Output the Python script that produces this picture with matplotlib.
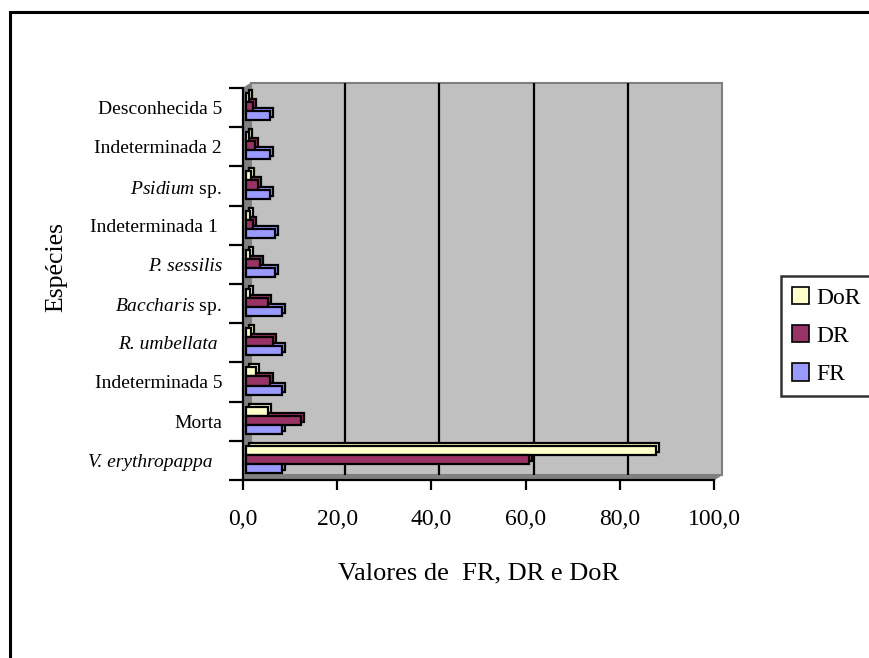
import matplotlib
matplotlib.use('Agg')
import matplotlib.pyplot as plt
import matplotlib.transforms as mtransforms
from matplotlib.patches import Rectangle, Polygon, Patch
import numpy as np

plt.rcParams['font.family'] = 'Liberation Serif'
plt.rcParams['mathtext.fontset'] = 'custom'
plt.rcParams['mathtext.rm'] = 'Liberation Serif'
plt.rcParams['mathtext.it'] = 'Liberation Serif:italic'

# species, bottom to top
species = ['V. erythropappa  ', 'Morta', 'Indeterminada 5',
           'R. umbellata ', r'$\mathit{Baccharis}$ sp.',
           'P. sessilis', 'Indeterminada 1 ', r'$\mathit{Psidium}$ sp.',
           'Indeterminada 2', 'Desconhecida 5']
italic = [True, False, False, True, False, True, False, False, False, False]
FR = [7.7, 7.7, 7.7, 7.7, 7.7, 6.2, 6.2, 5.1, 5.1, 5.1]
DR = [60.0, 11.6, 5.0, 5.7, 4.6, 2.9, 1.4, 2.5, 1.9, 1.5]
DoR = [87.0, 4.6, 2.1, 1.1, 0.9, 0.8, 0.8, 1.0, 0.7, 0.6]
xticks = [0, 20, 40, 60, 80, 100]
xticklabels = ['0,0', '20,0', '40,0', '60,0', '80,0', '100,0']

c_dor = '#FFFFCC'
c_dr = '#993366'
c_fr = '#9999FF'
wall = '#C0C0C0'
side = '#808080'

fig = plt.figure(figsize=(8.69, 6.58), dpi=100)
ax = fig.add_axes([243/869, 1-480/658, 471/869, 392/658])
ax.set_xlim(0, 100)
ax.set_ylim(-0.5, 9.5)
ax.patch.set_visible(False)

# depth of the 3D box in axes fractions
ddx = 8/471
ddy = 5/392

back = Rectangle((ddx, ddy), 1, 1, transform=ax.transAxes, facecolor=wall,
                 edgecolor=side, lw=1.5, clip_on=False, zorder=0)
ax.add_patch(back)
ax.add_patch(Polygon([(0, 0), (0, 1), (ddx, 1+ddy), (ddx, ddy)], closed=True,
                     transform=ax.transAxes, facecolor=side, edgecolor=side,
                     lw=0.5, clip_on=False, zorder=0.5))
ax.add_patch(Polygon([(0, 0), (1, 0), (1+ddx, ddy), (ddx, ddy)], closed=True,
                     transform=ax.transAxes, facecolor=side, edgecolor=side,
                     lw=0.5, clip_on=False, zorder=0.5))

# gridlines on the back wall
wall_off = mtransforms.ScaledTranslation(0.08, 0.05, fig.dpi_scale_trans)
ax.vlines(xticks[1:-1], 0, 1, colors='black', lw=1.6,
          transform=ax.get_xaxis_transform() + wall_off, zorder=1, clip_on=False)

# bars with a dark offset copy behind for the depth look
y = np.arange(len(species))
h = 0.23
front = ax.transData + mtransforms.ScaledTranslation(0.03, 0.01, fig.dpi_scale_trans)
depth = ax.transData + mtransforms.ScaledTranslation(0.06, 0.04, fig.dpi_scale_trans)
for vals, off, col in [(DoR, h, c_dor), (DR, 0, c_dr), (FR, -h, c_fr)]:
    ax.barh(y + off, vals, height=h, color=col, edgecolor='black', lw=1.6,
            transform=depth, zorder=3, clip_on=False)
    ax.barh(y + off, vals, height=h, color=col, edgecolor='black', lw=1.6,
            transform=front, zorder=4, clip_on=False)

for s in ['top', 'right']:
    ax.spines[s].set_visible(False)
for s in ['left', 'bottom']:
    ax.spines[s].set_linewidth(1.6)
    ax.spines[s].set_zorder(5)

ax.set_xticks(xticks)
ax.set_xticklabels(xticklabels, fontsize=17)
ax.tick_params(axis='x', direction='out', length=7, width=1.6, pad=14)

ax.set_yticks(y)
ax.set_yticklabels(species, fontsize=14)
for lab, it in zip(ax.get_yticklabels(), italic):
    if it:
        lab.set_fontstyle('italic')
ax.set_yticks(np.arange(-0.5, 10, 1), minor=True)
ax.tick_params(axis='y', which='major', length=0, pad=15)
ax.tick_params(axis='y', which='minor', direction='out', length=10, width=1.6)

fig.text(479/869, 1-573/658, 'Valores de  FR, DR e DoR', fontsize=19,
         ha='center', va='center')
fig.text(56/869, 1-267/658, 'Espécies', fontsize=18.5, rotation=90,
         ha='center', va='center')

handles = [Patch(facecolor=c_dor, edgecolor='black', lw=1.2),
           Patch(facecolor=c_dr, edgecolor='black', lw=1.2),
           Patch(facecolor=c_fr, edgecolor='black', lw=1.2)]
leg = fig.legend(handles, ['DoR', 'DR', 'FR'], loc='upper left',
                 bbox_to_anchor=(781/869, 1-276/658), fontsize=17,
                 frameon=True, fancybox=False, borderaxespad=0,
                 handlelength=0.75, handleheight=0.75, handletextpad=0.3,
                 labelspacing=0.7, borderpad=0.45)
leg.get_frame().set_edgecolor('black')
leg.get_frame().set_linewidth(1.8)

# outer chart border
fig.patches.append(Rectangle((10/869, -0.2), 1.2, 1.2 - 12/658, transform=fig.transFigure,
                             fill=False, edgecolor='black', lw=2.2))

fig.savefig('out.png', dpi=100)
